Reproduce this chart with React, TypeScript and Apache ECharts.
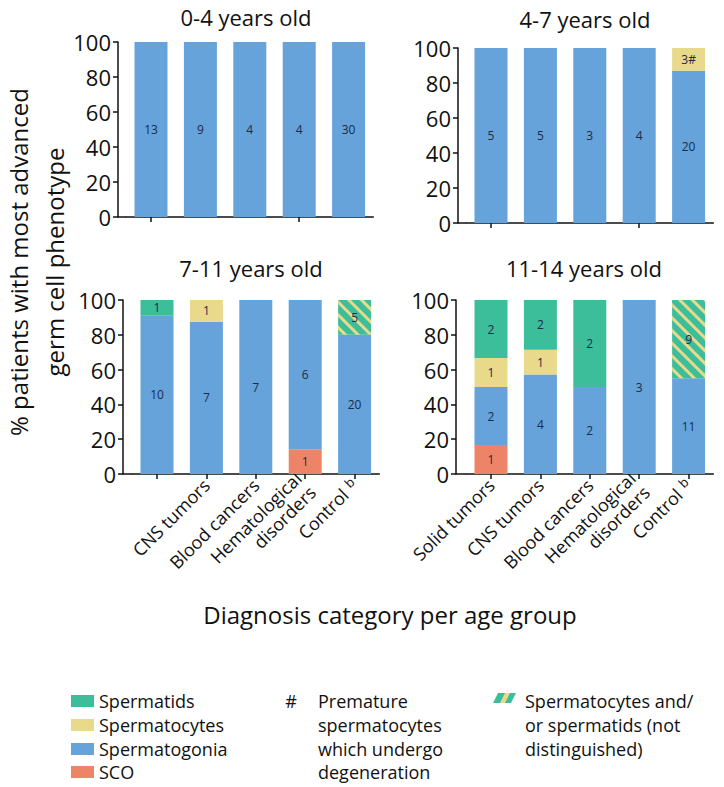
import React, { useEffect, useRef } from 'react';
import * as echarts from 'echarts';

const FONT = '"Open Sans", "DejaVu Sans", sans-serif';
const INK = '#111111';
const LABEL_INK = '#1c2b48';

const GREEN = '#3DBE9B';
const YELLOW = '#E8D98B';
const BLUE = '#65A3DA';
const SALMON = '#EE8467';

// ---- data ----
const ageGroups = ['0-4 years old', '4-7 years old', '7-11 years old', '11-14 years old'];
const categories = ['Solid tumors', 'CNS tumors', 'Blood cancers', 'Hematological\ndisorders', 'Control'];
const tickLabels = [
  ['', '', '', '', ''],
  ['', '', '', '', ''],
  ['', 'CNS tumors', 'Blood cancers', 'Hematological\ndisorders', 'Control {sup|b}'],
  ['Solid tumors', 'CNS tumors', 'Blood cancers', 'Hematological\ndisorders', 'Control {sup|b}'],
];

// number of patients per most advanced phenotype, one row per age group
const scoCounts = [
  [0, 0, 0, 0, 0],
  [0, 0, 0, 0, 0],
  [0, 0, 0, 1, 0],
  [1, 0, 0, 0, 0],
];
const spermatogoniaCounts = [
  [13, 9, 4, 4, 30],
  [5, 5, 3, 4, 20],
  [10, 7, 7, 6, 20],
  [2, 4, 2, 3, 11],
];
const spermatocyteCounts = [
  [0, 0, 0, 0, 0],
  [0, 0, 0, 0, 3],
  [0, 1, 0, 0, 0],
  [1, 1, 0, 0, 0],
];
const spermatidCounts = [
  [0, 0, 0, 0, 0],
  [0, 0, 0, 0, 0],
  [1, 0, 0, 0, 0],
  [2, 2, 2, 0, 0],
];
const mixedCounts = [
  [0, 0, 0, 0, 0],
  [0, 0, 0, 0, 0],
  [0, 0, 0, 0, 5],
  [0, 0, 0, 0, 9],
];
// premature spermatocytes which undergo degeneration (#)
const prematureFlags = [
  [0, 0, 0, 0, 0],
  [0, 0, 0, 0, 1],
  [0, 0, 0, 0, 0],
  [0, 0, 0, 0, 0],
];
const yTicks = { min: 0, max: 100, interval: 20 };

const legendSolid = [
  { name: 'Spermatids', color: GREEN },
  { name: 'Spermatocytes', color: YELLOW },
  { name: 'Spermatogonia', color: BLUE },
  { name: 'SCO', color: SALMON },
];
const legendHashLines = ['Premature', 'spermatocytes', 'which undergo', 'degeneration'];
const legendMixedLines = ['Spermatocytes and/', 'or spermatids (not', 'distinguished)'];

// ---- layout ----
const BAND = 49.4;
const panels = [
  { A: 118, first: 151, top: 42, height: 175, tx: 246, ty: 17 },
  { A: 458, first: 491, top: 48, height: 175, tx: 585, ty: 19 },
  { A: 123, first: 157, top: 300, height: 174, tx: 251, ty: 268 },
  { A: 456, first: 491, top: 300, height: 174, tx: 584, ty: 268 },
];
const LEG_ROWS = [701, 725, 749, 772];

const axisLineStyle = { color: INK, width: 1.5 };

function txt(x: number, y: number, text: string, size: number, align: string, extra: any = {}) {
  const { styleExtra, ...rest } = extra;
  return {
    type: 'text',
    x,
    y,
    ...rest,
    style: {
      text,
      fontSize: size,
      fontFamily: FONT,
      fill: INK,
      align,
      verticalAlign: 'middle',
      textAlign: align,
      textVerticalAlign: 'middle',
      ...(styleExtra || {}),
    },
  };
}

function buildOption() {
  const grid = panels.map((p) => ({
    left: p.first - BAND / 2,
    top: p.top,
    width: BAND * 5,
    height: p.height,
  }));

  const xAxis = panels.map((p, i) => ({
    type: 'category',
    gridIndex: i,
    data: categories,
    axisLine: { show: true, lineStyle: axisLineStyle },
    axisTick: { show: true, alignWithLabel: true, length: 5, lineStyle: axisLineStyle },
    axisLabel:
      i < 2
        ? { show: false }
        : {
            show: true,
            interval: 0,
            rotate: 45,
            margin: 8,
            fontSize: 18,
            lineHeight: 20,
            color: INK,
            fontFamily: FONT,
            formatter: (_v: string, idx: number) => tickLabels[i][idx],
            rich: {
              sup: { fontSize: 13, fontFamily: FONT, color: INK, verticalAlign: 'top', padding: [0, 0, 10, 1] },
            },
          },
    splitLine: { show: false },
  }));

  const yAxis = panels.map((p, i) => ({
    type: 'value',
    gridIndex: i,
    min: yTicks.min,
    max: yTicks.max,
    interval: yTicks.interval,
    offset: p.first - BAND / 2 - p.A,
    axisLine: { show: true, lineStyle: axisLineStyle },
    axisTick: { show: true, length: 5, lineStyle: axisLineStyle },
    splitLine: { show: false },
    axisLabel: { fontSize: 22, color: INK, fontFamily: FONT, margin: 7 },
  }));

  const phenotypes = [
    { name: 'SCO', counts: scoCounts, color: SALMON },
    { name: 'Spermatogonia', counts: spermatogoniaCounts, color: BLUE },
    { name: 'Spermatocytes', counts: spermatocyteCounts, color: YELLOW, flags: prematureFlags },
    { name: 'Spermatids', counts: spermatidCounts, color: GREEN },
    { name: 'Mixed', counts: mixedCounts, color: GREEN, hatched: true },
  ];

  const series: any[] = [];
  panels.forEach((_p, i) => {
    const totals = categories.map((_c, j) =>
      phenotypes.reduce((s, ph) => s + ph.counts[i][j], 0)
    );
    phenotypes.forEach((ph) => {
      series.push({
        type: 'bar',
        name: ph.name,
        xAxisIndex: i,
        yAxisIndex: i,
        stack: 'panel' + i,
        barWidth: 33,
        itemStyle: ph.hatched
          ? {
              color: ph.color,
              decal: {
                symbol: 'rect',
                symbolSize: 1,
                color: YELLOW,
                dashArrayX: [1, 0],
                dashArrayY: [3, 6],
                rotation: Math.PI / 4,
              },
            }
          : { color: ph.color },
        label: {
          show: true,
          position: 'inside',
          fontSize: 12,
          color: LABEL_INK,
          fontFamily: FONT,
          formatter: (prm: any) =>
            prm.data && prm.data.count ? String(prm.data.count) + (prm.data.mark || '') : '',
        },
        data: ph.counts[i].map((c, j) => ({
          value: c ? (c / totals[j]) * 100 : 0,
          count: c,
          mark: ph.flags && ph.flags[i][j] ? '#' : '',
        })),
      });
    });
  });

  const graphic: any[] = [];
  panels.forEach((p, i) => {
    graphic.push(txt(p.tx, p.ty, ageGroups[i], 22, 'center'));
    graphic.push({
      type: 'line',
      shape: { x1: p.A, y1: p.top + p.height, x2: p.first - BAND / 2, y2: p.top + p.height },
      style: { stroke: INK, lineWidth: 1.5 },
    });
  });
  // y-axis title
  graphic.push(
    txt(36, 262, '% patients with most advanced\ngerm cell phenotype', 24, 'center', {
      rotation: Math.PI / 2,
      styleExtra: { lineHeight: 36 },
    })
  );
  // x-axis title
  graphic.push(txt(390, 614, 'Diagnosis category per age group', 24, 'center'));
  // legend column 1
  legendSolid.forEach((it, k) => {
    graphic.push({
      type: 'rect',
      shape: { x: 71, y: LEG_ROWS[k] - 6, width: 23, height: 12 },
      style: { fill: it.color },
    });
    graphic.push(txt(99, LEG_ROWS[k], it.name, 18, 'left'));
  });
  // legend column 2
  graphic.push(txt(291, LEG_ROWS[0], '#', 18, 'center'));
  legendHashLines.forEach((t, k) => graphic.push(txt(318, LEG_ROWS[k], t, 18, 'left')));
  // legend column 3
  const sy = LEG_ROWS[0] - 3;
  graphic.push({
    type: 'polygon',
    shape: { points: [[493, sy + 5], [498, sy - 5], [516, sy - 5], [511, sy + 5]] },
    style: { fill: GREEN },
  });
  graphic.push({
    type: 'polygon',
    shape: { points: [[500, sy + 5], [505, sy - 5], [510, sy - 5], [505, sy + 5]] },
    style: { fill: YELLOW },
  });
  legendMixedLines.forEach((t, k) => graphic.push(txt(525, LEG_ROWS[k], t, 18, 'left')));

  return {
    animation: false,
    backgroundColor: '#ffffff',
    textStyle: { fontFamily: FONT },
    grid,
    xAxis,
    yAxis,
    series,
    graphic,
  };
}

export default function App() {
  const ref = useRef<HTMLDivElement>(null);
  useEffect(() => {
    if (!ref.current) return;
    const chart = echarts.init(ref.current, undefined, { renderer: 'svg' });
    chart.setOption(buildOption() as any);
    return () => {
      chart.dispose();
    };
  }, []);
  return (
    <div
      ref={ref}
      style={{ position: 'absolute', left: 0, top: 0, width: 724, height: 787, background: '#fff' }}
    />
  );
}
